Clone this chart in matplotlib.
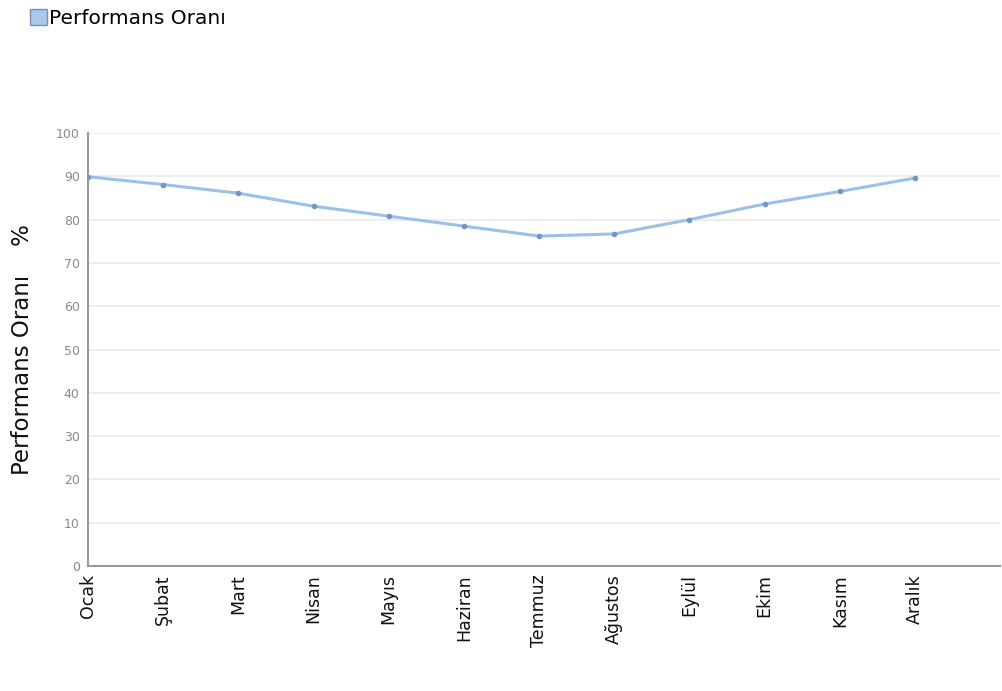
import matplotlib
matplotlib.use("Agg")
import matplotlib.pyplot as plt
import matplotlib.patches as mpatches

months = ["Ocak", "Şubat", "Mart", "Nisan", "Mayıs", "Haziran",
          "Temmuz", "Ağustos", "Eylül", "Ekim", "Kasım", "Aralık"]
performans = [89.9, 88.1, 86.1, 83.1, 80.8, 78.5, 76.2, 76.7, 80.0, 83.6, 86.5, 89.6]
y_ticks = [0, 10, 20, 30, 40, 50, 60, 70, 80, 90, 100]

line_color = '#9dc0e6'
marker_color = '#6f97c8'

fig = plt.figure(figsize=(10.03, 6.91), dpi=100)
ax = fig.add_axes([0.0877, 0.1809, 0.9093, 0.6266])

x = list(range(len(months)))
ax.plot(x, performans, color=line_color, linewidth=2.2, marker='o',
        markersize=3, markerfacecolor=marker_color, markeredgecolor=marker_color)

ax.set_xlim(0, 12.13)
ax.set_ylim(0, 100)
ax.set_yticks(y_ticks)
ax.set_yticklabels([str(v) for v in y_ticks], fontsize=9, color='#8a8a8a')
ax.set_xticks(x)
ax.set_xticklabels(months, rotation=90, fontsize=12.5, color='#111111',
                   ha='center', va='top')
ax.tick_params(axis='both', length=0)
ax.tick_params(axis='y', pad=6)
ax.tick_params(axis='x', pad=6)

# yatay ızgara çizgileri
ax.grid(axis='y', color='#ebebeb', linewidth=1.2)
ax.set_axisbelow(True)
for side in ['top', 'right']:
    ax.spines[side].set_visible(False)
for side in ['left', 'bottom']:
    ax.spines[side].set_color('#9a9a9a')
    ax.spines[side].set_linewidth(1.5)

ax.set_ylabel("Performans Oranı    %", fontsize=16.5, color='#111111', labelpad=16)

handle = mpatches.Patch(facecolor='#a9c8ec', edgecolor='#7790b0', linewidth=1,
                        label='Performans Oranı')
fig.legend(handles=[handle], loc='upper left', bbox_to_anchor=(0.016, 1.008),
           frameon=False, fontsize=14.5, handlelength=0.85, handleheight=0.9,
           handletextpad=0.1, borderaxespad=0.3)

fig.savefig("out.png", dpi=100)
